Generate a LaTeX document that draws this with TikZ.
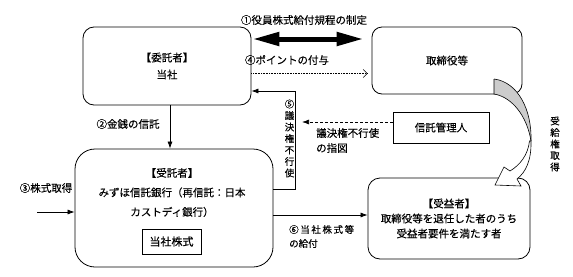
\documentclass[tikz,border=0pt]{standalone}
\usepackage{fontspec}
\setmainfont{Noto Sans CJK JP}[FakeBold=0.25]
\usetikzlibrary{arrows.meta,calc}
\begin{document}
\begin{tikzpicture}[x=1pt,y=-1pt,
  box/.style={draw, line width=0.8pt, align=center, inner sep=0pt},
  txt/.style={inner sep=0pt, font=\fontsize{10.5}{15}\selectfont},
  con/.style={line width=0.7pt},
  tipA/.style={-{Latex[length=7pt,width=5pt]}},
  vert/.style={inner sep=0pt, align=center}]
\useasboundingbox (0,0) rectangle (573,276);

% boxes
\node[box, rounded corners=11pt, minimum width=168pt, minimum height=78pt,
      font=\fontsize{10.5}{17}\selectfont] (itaku) at (167,66) {【委託者】\\当社};
\node[box, rounded corners=10pt, minimum width=150pt, minimum height=67pt,
      font=\fontsize{10.5}{15}\selectfont] (tori) at (447,60.5) {取締役等};
\node[box, rounded corners=20pt, minimum width=198pt, minimum height=118pt] (jutaku) at (174,208) {};
\node[txt, align=center, font=\fontsize{10.5}{19.5}\selectfont] (jutakutxt) at (172,192.5)
  {【受託者】\\みずほ信託銀行（再信託：日本\\カストディ銀行）};
\node[box, minimum width=59pt, minimum height=25pt, font=\fontsize{11}{13}\selectfont] (kabu) at (171.5,241.5) {当社株式};
\node[box, rounded corners=12pt, minimum width=162pt, minimum height=81pt,
      font=\fontsize{10.5}{15}\selectfont] (jueki) at (449,218.5)
  {【受益者】\\取締役等を退任した者のうち\\受益者要件を満たす者};
\node[box, minimum width=96pt, minimum height=31pt, font=\fontsize{10.5}{13}\selectfont] (kanri) at (441,127.5) {信託管理人};

% helper coordinates
\coordinate (y1) at (0,39);
\coordinate (y4) at (0,73.5);
\coordinate (c5b) at (295,189);
\coordinate (c5t) at (295,91);
\coordinate (y6) at (0,122);
\coordinate (d6) at (302,122);
\coordinate (x2) at (170,0);
\coordinate (s3) at (37,212);
\coordinate (y7) at (0,215);

% (1) thick double arrow
\draw[line width=5pt, {Triangle[width=13pt,length=27pt]}-{Triangle[width=13pt,length=27pt]}, shorten >=8pt, shorten <=1pt]
  (itaku.east |- y1) -- (tori.west |- y1);
\node[txt] (l1) at (304,20) {①役員株式給付規程の制定};

% (4) dotted arrow
\draw[line width=0.6pt, dash pattern=on 0.8pt off 0.8pt, -{Straight Barb[length=4pt,width=8pt]}, shorten >=4pt]
  (itaku.east |- y4) -- (tori.west |- y4);
\node[txt] (l4) at (287,60) {④ポイントの付与};

% (5) voting path
\draw[con, tipA] (jutaku.east |- c5b) -- (c5b) -- (c5t) -- (itaku.east |- c5t);
\node[vert, font=\fontsize{9.5}{11.5}\selectfont] (l5) at (289.5,138.5) {⑤\\議\\決\\権\\不\\行\\使};

% dashed instruction
\draw[con, dash pattern=on 3pt off 2pt, tipA] (kanri.west |- y6) -- (d6);
\node[txt, anchor=west, align=left] (l5b) at (316,140.5) {議決権不行使\\の指図};

% (2) money trust
\draw[con, tipA] (itaku.south -| x2) -- (jutaku.north -| x2);
\node[txt] (l2) at (128,124) {②金銭の信託};

% (3) share acquisition
\draw[con, tipA] (s3) -- (jutaku.west |- s3);
\node[txt] (l3) at (46,188) {③株式取得};

% (6) delivery
\draw[con, tipA] (jutaku.east |- y7) -- (jueki.west |- y7);
\node[inner sep=0pt, anchor=west, align=left, font=\fontsize{9.5}{14}\selectfont] (l6) at (289,236.5)
  {⑥\,当\,社\,株\,式\,等\\の給付};

% curved arrow (受給権取得)
\fill[gray!40] (494,79) .. controls (518,82) and (532,110) .. (531,141)
  .. controls (527,116) and (512,97) .. (494,94) -- cycle;
\draw[line width=0.6pt] (494,79) .. controls (518,82) and (532,110) .. (531,141);
\draw[line width=0.6pt] (494,79) -- (494,94) .. controls (512,97) and (527,116) .. (531,141);
\filldraw[fill=white, line width=0.6pt] (529.5,141) .. controls (528,155) and (520,165) .. (510,171)
  -- (504,167) -- (495,185) -- (521,186) -- (517,179)
  .. controls (526,172) and (531.5,160) .. (531,141) -- cycle;
\node[vert, font=\fontsize{9.5}{11.5}\selectfont] (l7) at (555,144) {受\\給\\権\\取\\得};
\end{tikzpicture}
\end{document}
